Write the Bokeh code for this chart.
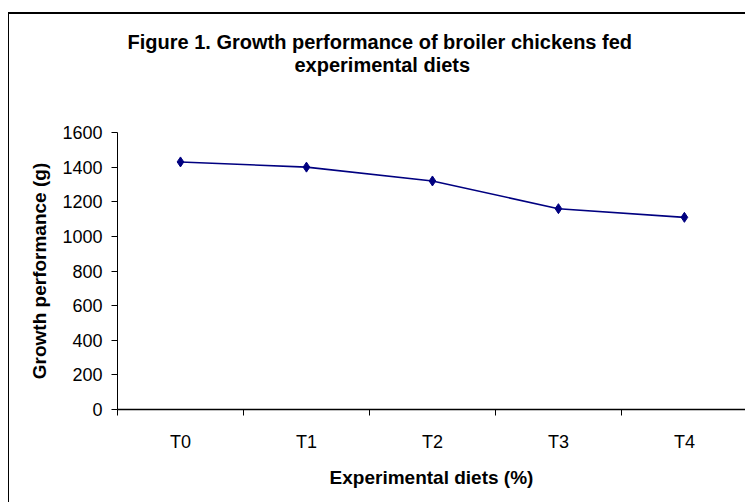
from bokeh.plotting import figure
from bokeh.models import FixedTicker, Title, Range1d
from bokeh.embed import file_html
from bokeh.resources import INLINE

# ---- data ----
categories = ["T0", "T1", "T2", "T3", "T4"]
growth = [1430, 1400, 1320, 1160, 1110]
y_ticks = [0, 200, 400, 600, 800, 1000, 1200, 1400, 1600]
title_lines = ["Figure 1. Growth performance of broiler chickens fed",
               "experimental diets"]
x_title = "Experimental diets (%)"
y_title = "Growth performance (g)"

FONT = "Liberation Sans"
NAVY = "#000080"

x_pos = [i + 0.5 for i in range(len(categories))]
boundaries = list(range(len(categories) + 1))

p = figure(width=745, height=502, output_backend="svg", toolbar_location=None,
           x_range=Range1d(0, 4.985), y_range=Range1d(0, 1600),
           min_border_left=117, min_border_right=0,
           min_border_top=132, min_border_bottom=93,
           background_fill_color="white", border_fill_color=None)

# outer chart border (left and top edges; right/bottom fall outside the view)
p.styles = {
    "background-color": "white",
    "background-image": "linear-gradient(#000, #000), linear-gradient(#000, #000)",
    "background-repeat": "no-repeat",
    "background-position": "8px 12px, 8px 12px",
    "background-size": "1px 100%, 100% 2px",
}

p.outline_line_color = None
p.xgrid.visible = False
p.ygrid.visible = False

# x axis: labels at category centres, ticks at category boundaries
xa = p.xaxis[0]
xa.ticker = FixedTicker(ticks=x_pos, minor_ticks=boundaries)
xa.major_label_overrides = {x: c for x, c in zip(x_pos, categories)}
xa.major_tick_line_color = None
xa.major_tick_out = 0
xa.major_tick_in = 0
xa.minor_tick_line_color = "black"
xa.minor_tick_out = 6
xa.minor_tick_in = 0
xa.axis_line_color = "black"
xa.axis_line_width = 1.5
xa.major_label_text_font = FONT
xa.major_label_text_font_size = "18px"
xa.major_label_text_color = "black"
xa.major_label_standoff = 16
xa.axis_label = x_title
xa.axis_label_text_font = FONT
xa.axis_label_text_font_size = "19px"
xa.axis_label_text_font_style = "bold"
xa.axis_label_text_color = "black"
xa.axis_label_standoff = 12

ya = p.yaxis[0]
ya.ticker = FixedTicker(ticks=y_ticks, minor_ticks=[])
ya.major_tick_out = 6
ya.major_tick_in = 0
ya.major_tick_line_color = "black"
ya.minor_tick_line_color = None
ya.axis_line_color = "black"
ya.axis_line_width = 1
ya.major_label_text_font = FONT
ya.major_label_text_font_size = "18px"
ya.major_label_text_color = "black"
ya.major_label_standoff = 9
ya.axis_label = y_title
ya.axis_label_text_font = FONT
ya.axis_label_text_font_size = "19px"
ya.axis_label_text_font_style = "bold"
ya.axis_label_text_color = "black"
ya.axis_label_standoff = 9

p.line(x_pos, growth, line_color=NAVY, line_width=1.6)
p.scatter(x_pos, growth, marker="diamond", size=10, fill_color=NAVY, line_color=NAVY)

# spacer between plot area and title, then the two title lines
p.add_layout(Title(text=" ", text_font_size="1px", standoff=54), "above")
p.add_layout(Title(text=title_lines[1], align="left", offset=177,
                   text_font=FONT, text_font_size="20px", text_font_style="bold",
                   text_color="black", standoff=0), "above")
p.add_layout(Title(text=title_lines[0], align="left", offset=10,
                   text_font=FONT, text_font_size="20px", text_font_style="bold",
                   text_color="black", standoff=-2), "above")

open("out.html", "w").write(file_html(p, INLINE))
